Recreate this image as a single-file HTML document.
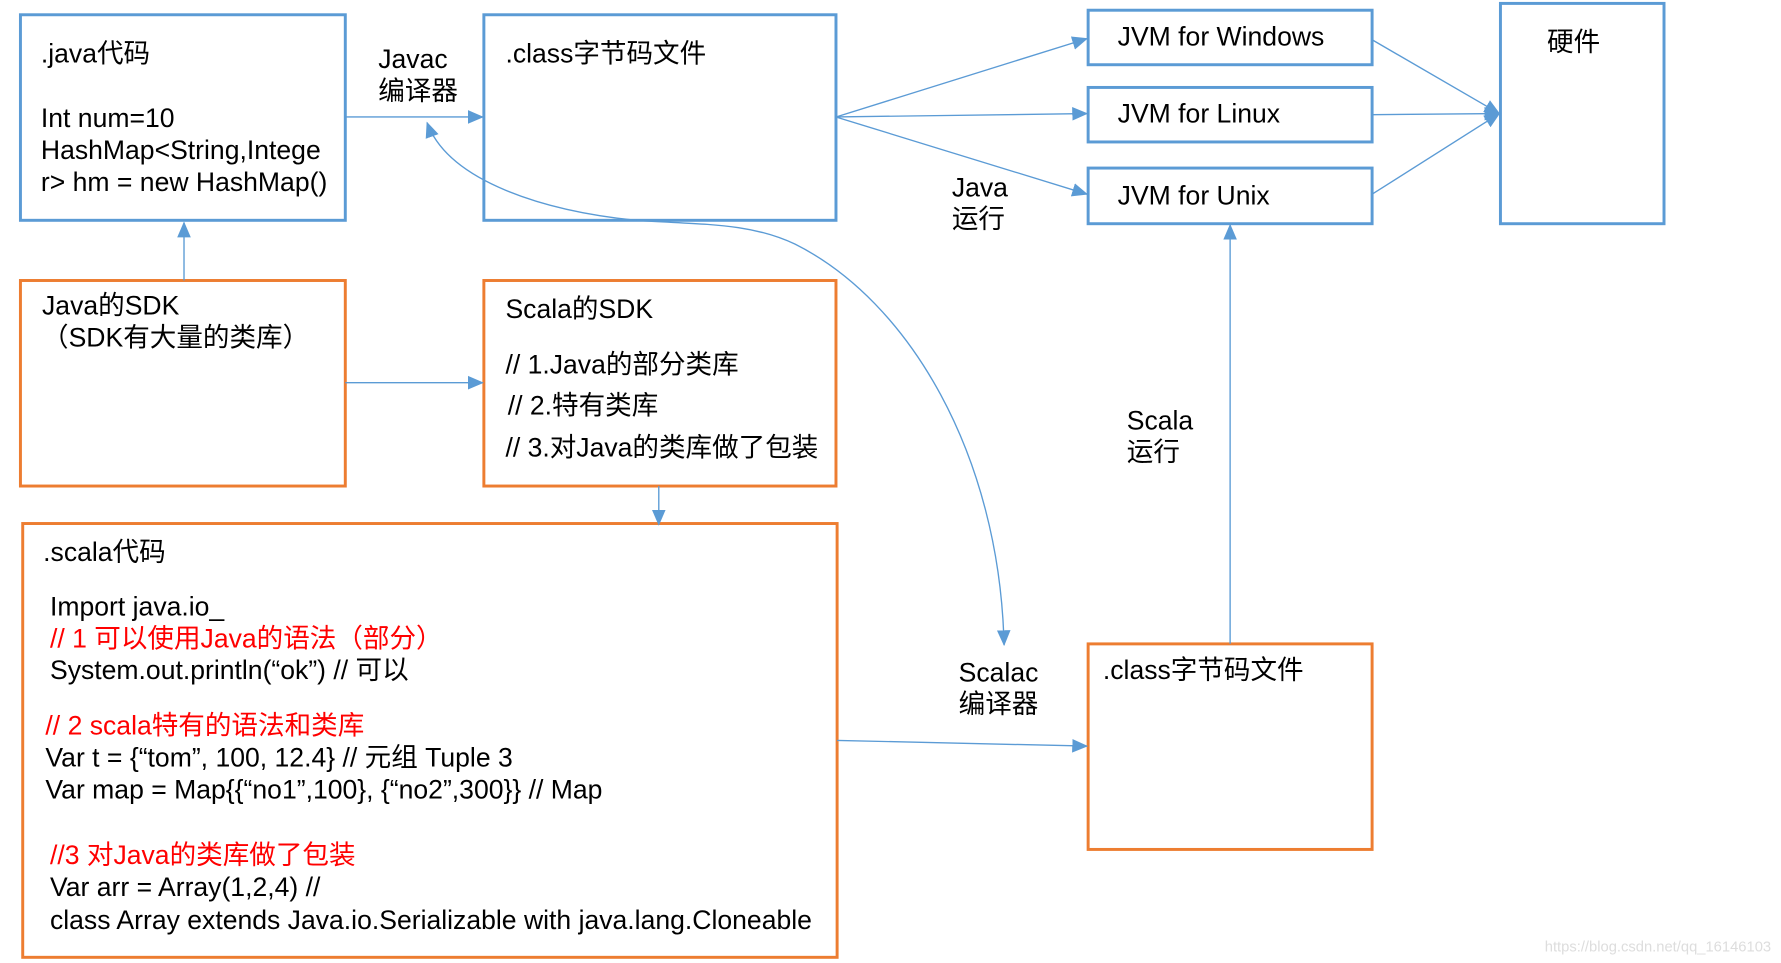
<!DOCTYPE html>
<html><head><meta charset="utf-8"><style>html,body{margin:0;padding:0;background:#fff}svg{display:block}</style></head>
<body>
<svg width="1781" height="963" viewBox="0 0 1568 848" preserveAspectRatio="none" xmlns="http://www.w3.org/2000/svg" font-family="Liberation Sans, Noto Sans CJK SC, sans-serif" font-size="23.4">
<defs>
<marker id="a" markerWidth="14" markerHeight="14" refX="13" refY="7" orient="auto" markerUnits="userSpaceOnUse"><path d="M0,1 L14,7 L0,13 Z" fill="#5B9BD5"/></marker>
</defs>
<g fill="none" stroke-width="2.6">
<rect x="18" y="13" width="286" height="181" stroke="#5B9BD5"/>
<rect x="426" y="13" width="310" height="181" stroke="#5B9BD5"/>
<rect x="958" y="9" width="250" height="48" stroke="#5B9BD5"/>
<rect x="958" y="77" width="250" height="48" stroke="#5B9BD5"/>
<rect x="958" y="148" width="250" height="49" stroke="#5B9BD5"/>
<rect x="1321" y="3" width="144" height="194" stroke="#5B9BD5"/>
<rect x="18" y="247" width="286" height="181" stroke="#ED7D31"/>
<rect x="426" y="247" width="310" height="181" stroke="#ED7D31"/>
<rect x="20" y="461" width="717" height="382" stroke="#ED7D31"/>
<rect x="958" y="567" width="250" height="181" stroke="#ED7D31"/>
</g>
<g stroke="#5B9BD5" stroke-width="1.2" fill="none">
<line x1="304" y1="103" x2="425" y2="103" marker-end="url(#a)"/>
<line x1="736" y1="103" x2="957" y2="34" marker-end="url(#a)"/>
<line x1="736" y1="103" x2="957" y2="100" marker-end="url(#a)"/>
<line x1="736" y1="103" x2="957" y2="171" marker-end="url(#a)"/>
<line x1="1208" y1="35" x2="1320" y2="100" marker-end="url(#a)"/>
<line x1="1208" y1="101" x2="1320" y2="100" marker-end="url(#a)"/>
<line x1="1208" y1="171" x2="1320" y2="100" marker-end="url(#a)"/>
<line x1="162" y1="247" x2="162" y2="196" marker-end="url(#a)"/>
<line x1="304" y1="337" x2="425" y2="337" marker-end="url(#a)"/>
<line x1="580" y1="428" x2="580" y2="462" marker-end="url(#a)"/>
<line x1="737" y1="652" x2="957" y2="657" marker-end="url(#a)"/>
<line x1="1083" y1="567" x2="1083" y2="198" marker-end="url(#a)"/>
<path d="M560,194 C480,186 395,160 376,108" marker-end="url(#a)"/>
<path d="M560,194 C620,198 660,196 700,215 C800,265 880,400 884,568" marker-end="url(#a)"/>
</g>
<g fill="#000">
<text x="36" y="55">.java代码</text>
<text x="36" y="112">Int num=10</text>
<text x="36" y="140">HashMap&lt;String,Intege</text>
<text x="36" y="168">r&gt; hm = new HashMap()</text>
<text x="333" y="60">Javac</text>
<text x="333" y="88">编译器</text>
<text x="445" y="55">.class字节码文件</text>
<text x="984" y="40">JVM for Windows</text>
<text x="984" y="108">JVM for Linux</text>
<text x="984" y="180">JVM for Unix</text>
<text x="1362" y="45">硬件</text>
<text x="838" y="173">Java</text>
<text x="838" y="201">运行</text>
<text x="37" y="277">Java的SDK</text>
<text x="37" y="305">（SDK有大量的类库）</text>
<text x="445" y="280">Scala的SDK</text>
<text x="445" y="329">// 1.Java的部分类库</text>
<text x="447" y="365">// 2.特有类库</text>
<text x="445" y="402">// 3.对Java的类库做了包装</text>
<text x="992" y="378">Scala</text>
<text x="992" y="406">运行</text>
<text x="38" y="494">.scala代码</text>
<text x="44" y="542">Import java.io_</text>
<text x="44" y="570" fill="#FF0000">// 1 可以使用Java的语法（部分）</text>
<text x="44" y="598">System.out.println(“ok”)  // 可以</text>
<text x="40" y="647" fill="#FF0000">// 2 scala特有的语法和类库</text>
<text x="40" y="675">Var t = {“tom”, 100, 12.4} // 元组 Tuple 3</text>
<text x="40" y="703">Var map = Map{{“no1”,100}, {“no2”,300}}  // Map</text>
<text x="44" y="761" fill="#FF0000">//3 对Java的类库做了包装</text>
<text x="44" y="789">Var arr = Array(1,2,4) //</text>
<text x="44" y="818">class Array extends Java.io.Serializable with java.lang.Cloneable</text>
<text x="844" y="600">Scalac</text>
<text x="844" y="628">编译器</text>
<text x="971" y="598">.class字节码文件</text>
<text x="1360" y="838" font-size="13" fill="#ddd">https://blog.csdn.net/qq_16146103</text>
</g>
</svg>
</body></html>
